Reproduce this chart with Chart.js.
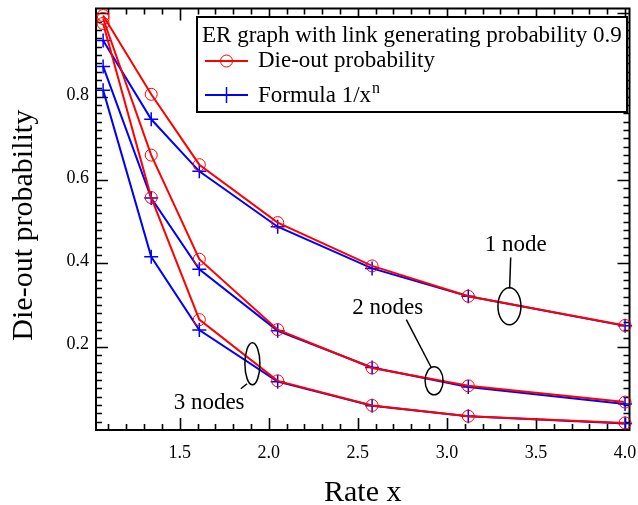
<!DOCTYPE html>
<html>
<head>
<meta charset="utf-8">
<script src="https://cdn.jsdelivr.net/npm/chart.js@4.4.1/dist/chart.umd.min.js"></script>
<style>
  html, body { margin: 0; padding: 0; background: #fff; }
  #wrap { width: 638px; height: 505px; }
</style>
</head>
<body>
<div id="wrap"><canvas id="dieOutChart" width="638" height="505"></canvas></div>
<script>
// Rate x for every run
const rates = [1.07, 1.34, 1.61, 2.05, 2.58, 3.12, 4.0];

// Die-out probability from the ER runs (1, 2 and 3 starting nodes)
const dieOut1 = [0.995, 0.806, 0.637, 0.498, 0.394, 0.321, 0.251];
const dieOut2 = [0.988, 0.660, 0.410, 0.241, 0.149, 0.106, 0.067];
const dieOut3 = [0.976, 0.558, 0.265, 0.118, 0.059, 0.033, 0.017];

// Formula 1/x^n for n = 1, 2, 3
const formula1 = [0.935, 0.746, 0.621, 0.488, 0.388, 0.321, 0.250];
const formula2 = [0.873, 0.557, 0.386, 0.238, 0.150, 0.103, 0.0625];
const formula3 = [0.816, 0.416, 0.240, 0.116, 0.058, 0.033, 0.0156];

const xTicks = [1.5, 2.0, 2.5, 3.0, 3.5, 4.0];
const yTicks = [0.2, 0.4, 0.6, 0.8];

const SERIF = "'Liberation Serif', 'Times New Roman', serif";
const RED = '#ff0000';
const BLUE = '#0000ff';

// labels for the three groups of curves, placed in data units
const groupNotes = [
  { text: '1 node',  label: [3.386, 0.445], from: [3.358, 0.414], to: [3.352, 0.340], ring: [3.351, 0.297], rx: 11.5, ry: 18.5 },
  { text: '2 nodes', label: [2.668, 0.293], from: [2.772, 0.265], to: [2.912, 0.150], ring: [2.928, 0.118], rx: 9, ry: 14 },
  { text: '3 nodes', label: [1.665, 0.066], from: [1.878, 0.111], to: [1.843, 0.099], ring: [1.908, 0.159], rx: 7.5, ry: 21 }
];

function toPoints(values) {
  return rates.map((x, i) => ({ x: x, y: values[i] }));
}

function dieOutSet(values) {
  return {
    data: toPoints(values),
    borderColor: RED,
    borderWidth: 2,
    pointStyle: 'circle',
    pointRadius: 6,
    pointBorderWidth: 1,
    pointBorderColor: RED,
    pointBackgroundColor: 'rgba(0,0,0,0)',
    fill: false,
    tension: 0,
    clip: false
  };
}

function formulaSet(values) {
  return {
    data: toPoints(values),
    borderColor: BLUE,
    borderWidth: 2,
    pointStyle: 'cross',
    pointRadius: 7,
    pointBorderWidth: 1.5,
    pointBorderColor: BLUE,
    fill: false,
    tension: 0,
    clip: false
  };
}

// frame, inward ticks, y title, legend box and group labels
const decorations = {
  id: 'decorations',
  beforeDatasetsDraw(chart) {
    const { ctx, chartArea: a, scales: { x, y } } = chart;
    ctx.save();
    ctx.strokeStyle = '#000';
    ctx.lineWidth = 2;
    ctx.strokeRect(a.left, a.top, a.right - a.left, a.bottom - a.top);

    ctx.lineWidth = 1.6;
    ctx.beginPath();
    for (let i = 11; i <= 40; i++) {
      const px = Math.round(x.getPixelForValue(i / 10)) + 0.5;
      const len = i % 5 === 0 ? 12 : 6;
      ctx.moveTo(px, a.bottom); ctx.lineTo(px, a.bottom - len);
      ctx.moveTo(px, a.top); ctx.lineTo(px, a.top + len);
    }
    for (let i = 1; i <= 50; i++) {
      const py = Math.round(y.getPixelForValue(i * 0.02)) + 0.5;
      const len = i % 10 === 0 ? 12 : 6;
      ctx.moveTo(a.left, py); ctx.lineTo(a.left + len, py);
      ctx.moveTo(a.right, py); ctx.lineTo(a.right - len, py);
    }
    ctx.stroke();

    // y axis title
    ctx.translate(32, (a.top + a.bottom) / 2 + 6);
    ctx.rotate(-Math.PI / 2);
    ctx.fillStyle = '#000';
    ctx.font = '30px ' + SERIF;
    ctx.textAlign = 'center';
    ctx.textBaseline = 'alphabetic';
    ctx.fillText('Die-out probability', 0, 0);
    ctx.restore();
  },
  afterDatasetsDraw(chart) {
    const { ctx, scales: { x, y } } = chart;
    ctx.save();

    // group labels with their rings
    ctx.strokeStyle = '#000';
    ctx.fillStyle = '#000';
    ctx.lineWidth = 1.5;
    ctx.font = '23px ' + SERIF;
    ctx.textAlign = 'center';
    ctx.textBaseline = 'middle';
    groupNotes.forEach(n => {
      ctx.fillText(n.text, x.getPixelForValue(n.label[0]), y.getPixelForValue(n.label[1]));
      ctx.beginPath();
      ctx.moveTo(x.getPixelForValue(n.from[0]), y.getPixelForValue(n.from[1]));
      ctx.lineTo(x.getPixelForValue(n.to[0]), y.getPixelForValue(n.to[1]));
      ctx.stroke();
      ctx.beginPath();
      ctx.ellipse(x.getPixelForValue(n.ring[0]), y.getPixelForValue(n.ring[1]), n.rx, n.ry, 0, 0, Math.PI * 2);
      ctx.stroke();
    });

    // legend box
    const bx = 197, by = 17, bw = 430, bh = 95;
    ctx.fillStyle = '#fff';
    ctx.fillRect(bx, by, bw, bh);
    ctx.lineWidth = 2;
    ctx.strokeStyle = '#000';
    ctx.strokeRect(bx, by, bw, bh);

    ctx.fillStyle = '#000';
    ctx.textAlign = 'left';
    ctx.textBaseline = 'alphabetic';
    ctx.font = '23px ' + SERIF;
    ctx.fillText('ER graph with link generating probability 0.9', 202, 42);

    // red sample
    ctx.lineWidth = 2;
    ctx.strokeStyle = RED;
    ctx.beginPath(); ctx.moveTo(205, 61); ctx.lineTo(248, 61); ctx.stroke();
    ctx.lineWidth = 1;
    ctx.beginPath(); ctx.arc(226.5, 61, 6, 0, Math.PI * 2); ctx.stroke();
    ctx.fillText('Die-out probability', 258, 67);

    // blue sample
    ctx.lineWidth = 2;
    ctx.strokeStyle = BLUE;
    ctx.beginPath(); ctx.moveTo(205, 95); ctx.lineTo(248, 95); ctx.stroke();
    ctx.lineWidth = 1.5;
    ctx.beginPath(); ctx.moveTo(226.5, 87); ctx.lineTo(226.5, 103); ctx.stroke();
    ctx.fillText('Formula 1/x', 258, 102);
    const w = ctx.measureText('Formula 1/x').width;
    ctx.font = '16px ' + SERIF;
    ctx.fillText('n', 258 + w + 1, 93);

    ctx.restore();
  }
};

const tickFont = { family: SERIF, size: 18 };

new Chart(document.getElementById('dieOutChart'), {
  type: 'line',
  data: {
    datasets: [
      dieOutSet(dieOut1), dieOutSet(dieOut2), dieOutSet(dieOut3),
      formulaSet(formula1), formulaSet(formula2), formulaSet(formula3)
    ]
  },
  options: {
    responsive: false,
    animation: false,
    layout: { padding: { top: 5, right: 5, left: 0, bottom: 0 } },
    plugins: {
      legend: { display: false },
      tooltip: { enabled: false }
    },
    scales: {
      x: {
        type: 'linear',
        min: 1.03,
        max: 4.025,
        grid: { display: false, drawTicks: false },
        border: { display: false },
        afterBuildTicks: s => { s.ticks = xTicks.map(v => ({ value: v })); },
        afterFit: s => { s.height = 75; s.paddingLeft = 0; s.paddingRight = 0; },
        ticks: {
          font: tickFont,
          color: '#000',
          padding: 12,
          maxRotation: 0,
          autoSkip: false,
          callback: v => Number(v).toFixed(1)
        },
        title: {
          display: true,
          text: 'Rate x',
          color: '#000',
          font: { family: SERIF, size: 30, lineHeight: 0.8 },
          padding: 0
        }
      },
      y: {
        type: 'linear',
        min: 0,
        max: 1.012,
        grid: { display: false, drawTicks: false },
        border: { display: false },
        afterBuildTicks: s => { s.ticks = yTicks.map(v => ({ value: v })); },
        afterFit: s => { s.width = 96; s.paddingTop = 0; s.paddingBottom = 0; },
        ticks: {
          font: tickFont,
          color: '#000',
          padding: 7,
          labelOffset: -2,
          autoSkip: false,
          callback: v => Number(v).toFixed(1)
        }
      }
    }
  },
  plugins: [decorations]
});
</script>
</body>
</html>
